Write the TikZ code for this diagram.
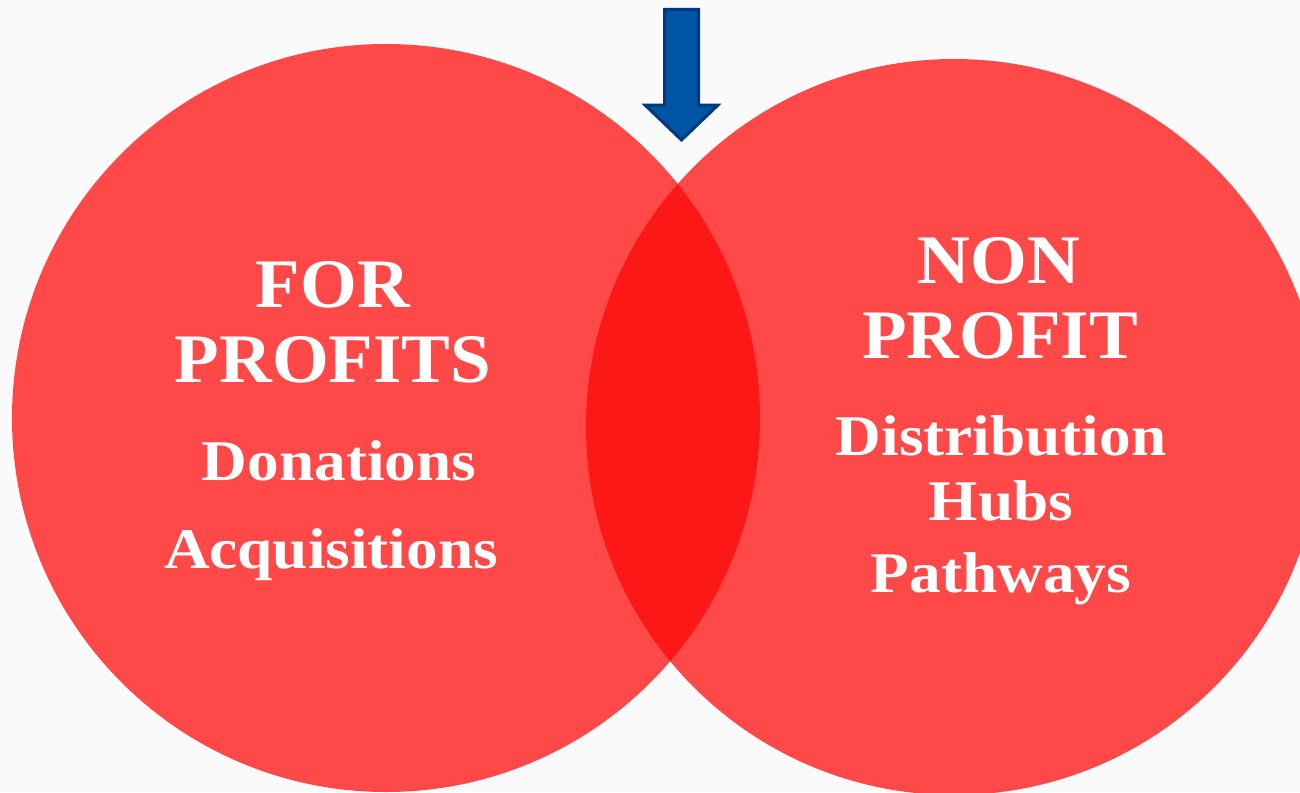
\documentclass[tikz,border=0pt]{standalone}
\usepackage{fontspec}
\setmainfont{Liberation Serif}
\newfontfamily\capsfont[FakeStretch=1.05]{Liberation Serif}
\newfontfamily\lowfont[FakeStretch=1.10]{Liberation Serif}
\definecolor{bgc}{RGB}{250,250,250}
\definecolor{circred}{RGB}{255,72,72}
\definecolor{lensred}{RGB}{253,24,24}
\definecolor{arrowfill}{RGB}{0,84,164}
\definecolor{arrowedge}{RGB}{0,58,120}
\begin{document}
\begin{tikzpicture}[x=1pt,y=-1pt,
  bigcircle/.style={circle, fill=circred, inner sep=0pt, minimum size=#1},
  captext/.style={text=white, anchor=base, inner sep=0pt, font=\capsfont\bfseries\fontsize{69.5}{75}\selectfont},
  subtext/.style={text=white, anchor=base, inner sep=0pt, font=\lowfont\bfseries\fontsize{57.5}{62}\selectfont}]
\useasboundingbox (0,0) rectangle (1300,792);
\fill[bgc] (0,0) rectangle (1300,792);
% circles
\node[bigcircle=748pt] (left) at (386,418) {};
\node[bigcircle=736pt] (right) at (954,427) {};
\begin{scope}
  \clip (386,418) circle (374pt);
  \fill[lensred] (954,427) circle (368pt);
\end{scope}
% arrow
\draw[fill=arrowfill, draw=arrowedge, line width=3pt, line join=miter]
  (664.5,9.5) -- (698.5,9.5) -- (698.5,105) -- (718,105) -- (681.5,140)
  -- (645,105) -- (664.5,105) -- cycle;
% left texts
\node[captext] (for) at (333,307) {FOR};
\node[captext] (profits) at (333,382) {PROFITS};
\node[subtext] (don) at (339,480) {Donations};
\node[subtext] (acq) at (331,568) {Acquisitions};
% right texts
\node[captext] (non) at (999,283) {NON};
\node[captext] (profit) at (1000,358) {PROFIT};
\node[subtext] (dist) at (1001,455) {Distribution};
\node[subtext] (hubs) at (1001,520) {Hubs};
\node[subtext] (path) at (1001,592) {Pathways};
\end{tikzpicture}
\end{document}
